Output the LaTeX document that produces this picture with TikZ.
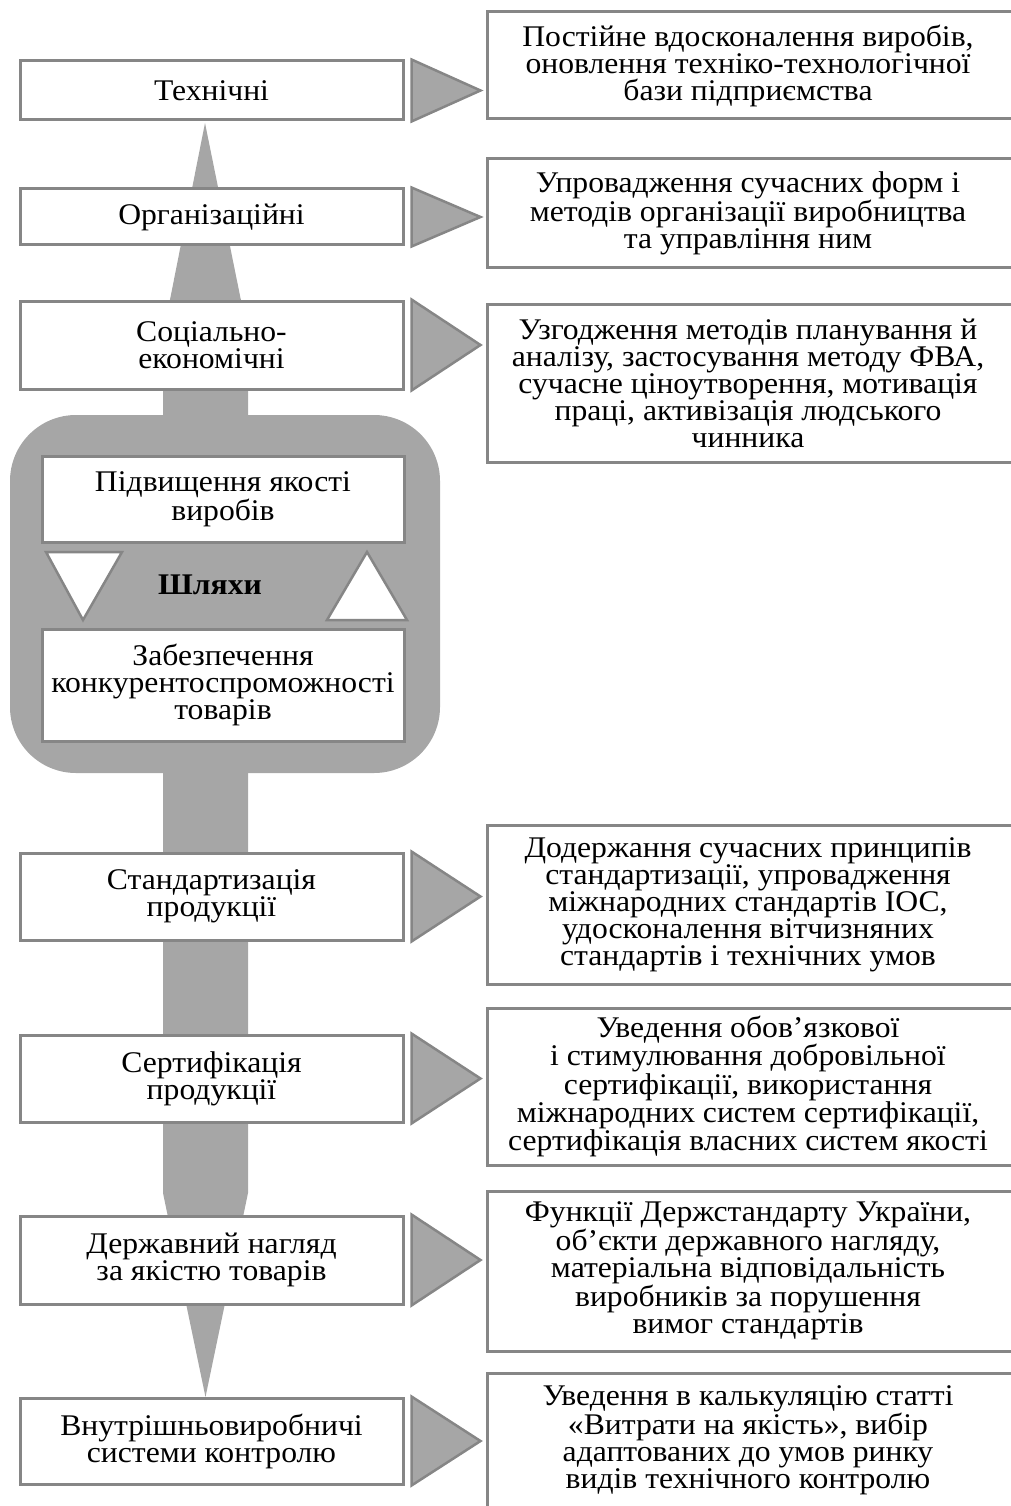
\documentclass[tikz,border=0pt]{standalone}
\usepackage{fontspec}
\setmainfont{Liberation Serif}[FakeStretch=1.055]
\definecolor{edgegray}{RGB}{134,134,134}
\definecolor{fillgray}{RGB}{166,166,166}
\newcommand\bodyfont{\fontsize{30}{27}\selectfont}
\tikzset{
  lbox/.style={draw=edgegray, line width=3pt, fill=white, inner sep=0pt,
               minimum width=383pt, align=center, font=\bodyfont},
  rbox/.style={draw=edgegray, line width=3pt, fill=white},
  rtext/.style={inner sep=0pt, align=center, font=\bodyfont},
  pointer/.style={draw=edgegray, line width=2.5pt, fill=fillgray, line join=miter},
  hollow/.style={draw=edgegray, line width=2.5pt, fill=white},
  trunk/.style={fill=fillgray},
}
\begin{document}
\begin{tikzpicture}[x=1pt,y=-1pt]
\clip (0,0) rectangle (1011,1506);

% central trunk: pointed top and bottom
\fill[trunk] (205,123) -- (248,335) -- (248,1193) -- (205.5,1397)
  -- (163,1193) -- (163,335) -- cycle;
% rounded panel with the two goals
\fill[trunk, rounded corners=66pt] (10,415) rectangle (440,773);

% left column of directions
\node[lbox, minimum height=59pt] (t1) at (211.5,90.5) {Технічні};
\node[lbox, minimum height=56pt] (t2) at (211.5,217) {Організаційні};
\node[lbox, minimum height=88pt] (t3) at (211.5,345) {Соціально-\\економічні};
\node[lbox, minimum height=87pt] (t4) at (211.5,896.5) {Стандартизація\\продукції};
\node[lbox, minimum height=87pt] (t5) at (211.5,1078.5) {Сертифікація\\продукції};
\node[lbox, minimum height=88pt] (t6) at (211.5,1260) {Державний нагляд\\за якістю товарів};
\node[lbox, minimum height=86pt] (t7) at (211.5,1441) {Внутрішньовиробничі\\системи контролю};

% goals inside the panel
\node[lbox, minimum width=362pt, minimum height=86pt] (g1) at (223,499)
  {Підвищення якості\\виробів};
\node[lbox, minimum width=362pt, minimum height=112pt] (g2) at (223,685)
  {Забезпечення\\конкурентоспроможності\\товарів};
\node[inner sep=0pt, font=\bodyfont\bfseries] (ways) at (210,585) {Шляхи};
\draw[hollow] (46,552) coordinate (d1) -- (122,552) coordinate (d2)
  -- (83,620) coordinate (d3) -- cycle;
\draw[hollow] (327,620) coordinate (u1) -- (407,620) coordinate (u2)
  -- (367,552) coordinate (u3) -- cycle;

% pointers from each direction to its content
\foreach \n in {t1,t2,t3,t4,t5,t6,t7}{
  \draw[pointer] ([xshift=7pt]\n.north east) -- ([xshift=76pt]\n.east)
    -- ([xshift=7pt]\n.south east) -- cycle;
}

% right column of contents
\draw[rbox] (487,12) rectangle (1040,119);
\node[rtext] (r1) at (748,65.5)
  {Постійне вдосконалення виробів,\\оновлення техніко-технологічної\\бази підприємства};
\draw[rbox] (487,159) rectangle (1040,267);
\node[rtext] (r2) at (748,213)
  {Упровадження сучасних форм і\\методів організації виробництва\\та управління ним};
\draw[rbox] (487,304) rectangle (1040,462);
\node[rtext] (r3) at (748,383)
  {Узгодження методів планування й\\аналізу, застосування методу ФВА,\\сучасне ціноутворення, мотивація\\праці, активізація людського\\чинника};
\draw[rbox] (487,825) rectangle (1040,984);
\node[rtext] (r4) at (748,904.5)
  {Додержання сучасних принципів\\стандартизації, упровадження\\міжнародних стандартів ІОС,\\удосконалення вітчизняних\\стандартів і технічних умов};
\draw[rbox] (487,1008) rectangle (1040,1165);
\node[rtext] (r5) at (748,1086.5)
  {Уведення обов’язкової\\і стимулювання добровільної\\сертифікації, використання\\міжнародних систем сертифікації,\\сертифікація власних систем якості};
\draw[rbox] (487,1191) rectangle (1040,1351);
\node[rtext] (r6) at (748,1271)
  {Функції Держстандарту України,\\об’єкти державного нагляду,\\матеріальна відповідальність\\виробників за порушення\\вимог стандартів};
\draw[rbox] (487,1373) rectangle (1040,1540);
\node[rtext] (r7) at (748,1440)
  {Уведення в калькуляцію статті\\«Витрати на якість», вибір\\адаптованих до умов ринку\\видів технічного контролю};
\end{tikzpicture}
\end{document}
